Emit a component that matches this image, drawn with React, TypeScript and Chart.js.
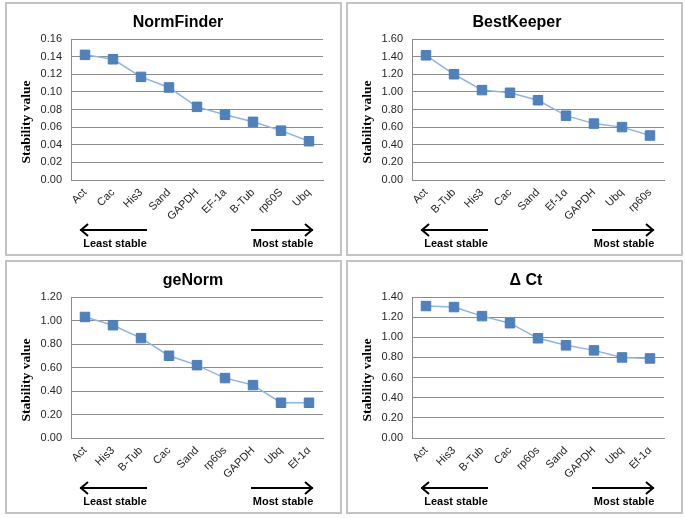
import React, { useEffect, useRef } from "react";
import { Chart, registerables } from "chart.js";
Chart.register(...registerables);

// ---- Data ----
const normCats = ["Act", "Cac", "His3", "Sand", "GAPDH", "EF-1a", "B-Tub", "rp60S", "Ubq"];
const normVals = [0.142, 0.137, 0.117, 0.105, 0.083, 0.074, 0.066, 0.056, 0.044];
const bestCats = ["Act", "B-Tub", "His3", "Cac", "Sand", "Ef-1α", "GAPDH", "Ubq", "rp60s"];
const bestVals = [1.415, 1.2, 1.02, 0.99, 0.905, 0.73, 0.64, 0.6, 0.505];
const geCats = ["Act", "His3", "B-Tub", "Cac", "Sand", "rp60s", "GAPDH", "Ubq", "Ef-1α"];
const geVals = [1.03, 0.96, 0.85, 0.7, 0.62, 0.51, 0.45, 0.3, 0.3];
const dctCats = ["Act", "His3", "B-Tub", "Cac", "rp60s", "Sand", "GAPDH", "Ubq", "Ef-1α"];
const dctVals = [1.31, 1.3, 1.21, 1.14, 0.99, 0.92, 0.87, 0.8, 0.79];

const yMaxes = [0.16, 1.6, 1.2, 1.4];
const ySteps = [0.02, 0.2, 0.2, 0.2];
const titles = ["NormFinder", "BestKeeper", "geNorm", "Δ Ct"];
const yTitle = "Stability value";
const leftLabel = "Least stable";
const rightLabel = "Most stable";

type PanelProps = {
  cats: string[];
  vals: number[];
  yMax: number;
  step: number;
  title: string;
  titleX: number;
  left: number;
  top: number;
};

const W = 338;
const H = 256;

const decoPlugin = {
  id: "deco",
  afterDraw(chart: any) {
    const o = chart.options.plugins.deco;
    const ctx = chart.ctx;
    ctx.save();
    // panel border
    ctx.strokeStyle = "#c3c3c3";
    ctx.lineWidth = 2;
    ctx.strokeRect(1, 1, 335, 252);
    // title
    ctx.fillStyle = "#000";
    ctx.font = "bold 16px 'Liberation Sans', Arial, sans-serif";
    ctx.textAlign = "center";
    ctx.textBaseline = "alphabetic";
    ctx.fillText(o.title, o.titleX, 24.5);
    // y title
    ctx.save();
    ctx.translate(22, 120);
    ctx.rotate(-Math.PI / 2);
    ctx.font = "bold 13.5px 'Liberation Serif', 'Times New Roman', serif";
    ctx.textBaseline = "middle";
    ctx.fillText(yTitle, 0, 0);
    ctx.restore();
    // arrows
    ctx.strokeStyle = "#000";
    ctx.lineWidth = 2;
    const ay = 228;
    ctx.beginPath();
    ctx.moveTo(75, ay);
    ctx.lineTo(142, ay);
    ctx.moveTo(83, ay - 6);
    ctx.lineTo(76, ay);
    ctx.lineTo(83, ay + 6);
    ctx.moveTo(246, ay);
    ctx.lineTo(308, ay);
    ctx.moveTo(300, ay - 6);
    ctx.lineTo(307, ay);
    ctx.lineTo(300, ay + 6);
    ctx.stroke();
    ctx.font = "bold 11px 'Liberation Sans', Arial, sans-serif";
    ctx.fillText(leftLabel, 110, 245);
    ctx.fillText(rightLabel, 278, 245);
    ctx.restore();
  },
};

function Panel(p: PanelProps) {
  const ref = useRef<HTMLCanvasElement>(null);
  useEffect(() => {
    const chart = new Chart(ref.current as HTMLCanvasElement, {
      type: "line",
      data: {
        labels: p.cats,
        datasets: [
          {
            data: p.vals,
            borderColor: "#8eb4e3",
            borderWidth: 1.5,
            backgroundColor: "#4f81bd",
            pointStyle: "rect",
            pointRadius: 6.7,
            pointBackgroundColor: "#4f81bd",
            pointBorderColor: "#4a7ebb",
            pointBorderWidth: 1,
            tension: 0,
          },
        ],
      },
      options: {
        animation: false,
        responsive: false,
        devicePixelRatio: 1,
        layout: { padding: { top: 37, right: 20, left: 0, bottom: 0 } },
        plugins: {
          legend: { display: false },
          tooltip: { enabled: false },
          title: { display: false },
          deco: { title: p.title, titleX: p.titleX },
        } as any,
        scales: {
          x: {
            offset: true,
            grid: { display: false, drawTicks: false },
            border: { display: true, color: "#8c8c8c", width: 1 },
            ticks: {
              minRotation: 45,
              maxRotation: 45,
              autoSkip: false,
              padding: 6,
              color: "#262626",
              font: { family: "'Liberation Sans', Arial, sans-serif", size: 11 },
            },
            afterFit: (s: any) => {
              s.height = 78;
            },
          },
          y: {
            min: 0,
            max: p.yMax,
            grid: { color: "#8c8c8c", drawTicks: false, lineWidth: 1 },
            border: { display: true, color: "#8c8c8c", width: 1 },
            ticks: {
              stepSize: p.step,
              padding: 9,
              color: "#262626",
              font: { family: "'Liberation Sans', Arial, sans-serif", size: 11 },
              callback: (v: any) => Number(v).toFixed(2),
            },
            afterFit: (s: any) => {
              s.width = 66;
            },
          },
        },
      },
      plugins: [decoPlugin],
    } as any);
    return () => chart.destroy();
  }, []);
  return (
    <canvas
      ref={ref}
      width={W}
      height={H}
      style={{ position: "absolute", left: p.left, top: p.top, width: W, height: H }}
    />
  );
}

export default function App() {
  return (
    <div style={{ position: "absolute", left: 0, top: 0, width: 685, height: 518, background: "#fff" }}>
      <Panel cats={normCats} vals={normVals} yMax={yMaxes[0]} step={ySteps[0]} title={titles[0]} titleX={173} left={5} top={2} />
      <Panel cats={bestCats} vals={bestVals} yMax={yMaxes[1]} step={ySteps[1]} title={titles[1]} titleX={171} left={346} top={2} />
      <Panel cats={geCats} vals={geVals} yMax={yMaxes[2]} step={ySteps[2]} title={titles[2]} titleX={188} left={5} top={260} />
      <Panel cats={dctCats} vals={dctVals} yMax={yMaxes[3]} step={ySteps[3]} title={titles[3]} titleX={180} left={346} top={260} />
    </div>
  );
}
